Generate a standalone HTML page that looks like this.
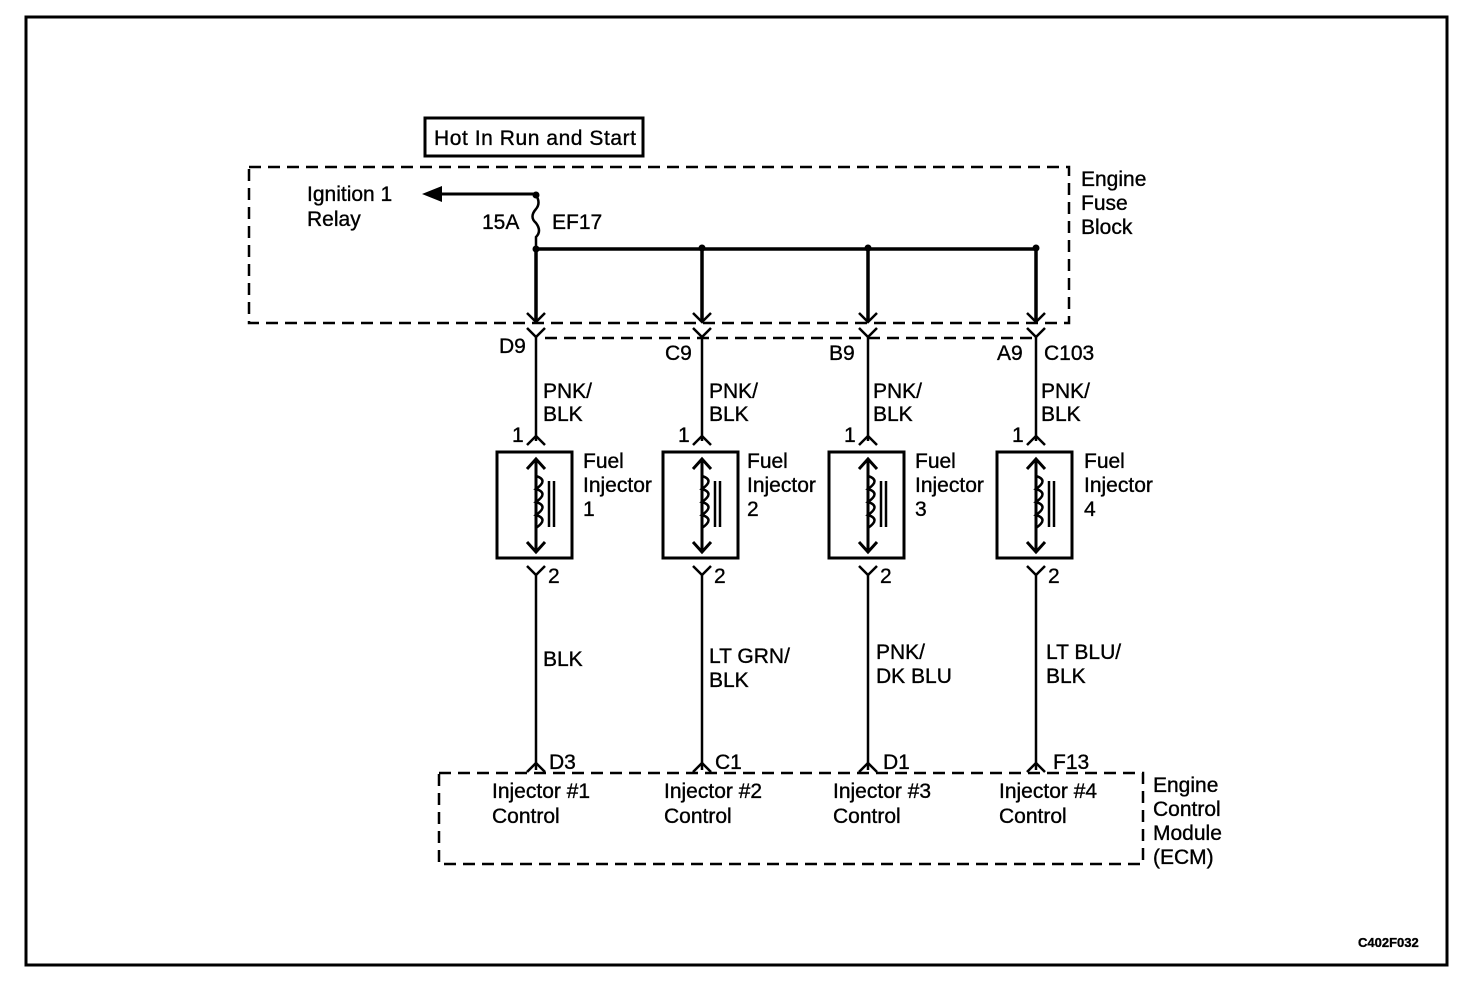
<!DOCTYPE html>
<html><head><meta charset="utf-8"><style>
html,body{margin:0;padding:0;background:#fff}
svg{display:block}
text{font-family:"Liberation Sans",Arial,sans-serif;font-size:21px;fill:#000;stroke:#000;stroke-width:0.35}
</style></head><body>
<svg width="1472" height="988" viewBox="0 0 1472 988" xmlns="http://www.w3.org/2000/svg">
<rect x="26" y="17" width="1421" height="948" fill="none" stroke="#000" stroke-width="3"/>
<rect x="425" y="118" width="218" height="38" fill="none" stroke="#000" stroke-width="3"/>
<text x="434" y="145" textLength="202">Hot In Run and Start</text>
<rect x="249" y="167" width="820" height="156" fill="none" stroke="#000" stroke-width="2.5" stroke-dasharray="12,7"/>
<line x1="545" y1="338" x2="1036" y2="338" stroke="#000" stroke-width="2.5" stroke-dasharray="12,7"/>
<rect x="439" y="773" width="704" height="91" fill="none" stroke="#000" stroke-width="2.5" stroke-dasharray="12,7"/>
<text x="307" y="201">Ignition 1</text>
<text x="307" y="226">Relay</text>
<text x="1081" y="186">Engine</text>
<text x="1081" y="210">Fuse</text>
<text x="1081" y="234">Block</text>
<text x="1153" y="792">Engine</text>
<text x="1153" y="816">Control</text>
<text x="1153" y="840">Module</text>
<text x="1153" y="864">(ECM)</text>
<text x="1358" y="947" style="font-size:13px;font-weight:bold">C402F032</text>
<line x1="440" y1="194" x2="536" y2="194" stroke="#000" stroke-width="3"/>
<polygon points="422,194 442,186 442,202" fill="#000"/>
<circle cx="536" cy="195" r="3.5" fill="#000"/>
<path d="M536 195 q5 8 0 14 q-7 8 0 14 q6 8 0 14 l0 12" fill="none" stroke="#000" stroke-width="2.5"/>
<text x="482" y="229">15A</text>
<text x="552" y="229">EF17</text>
<line x1="536" y1="249" x2="1036" y2="249" stroke="#000" stroke-width="3.5"/>
<circle cx="536" cy="249" r="3.5" fill="#000"/>
<circle cx="702" cy="248" r="3.5" fill="#000"/>
<circle cx="868" cy="248" r="3.5" fill="#000"/>
<circle cx="1036" cy="248" r="3.5" fill="#000"/>
<defs>
<g id="col" stroke="#000" fill="none">
<line x1="536" y1="249" x2="536" y2="321" stroke-width="3.5"/>
<polyline points="527,313 536,322 545,313" stroke-width="2.5"/>
<polyline points="527,328 536,337 545,328" stroke-width="2.5"/>
<line x1="536" y1="337" x2="536" y2="441" stroke-width="2.5"/>
<polyline points="527,445 536,436 545,445" stroke-width="2.5"/>
<rect x="497" y="452" width="75" height="106" stroke-width="3"/>
<line x1="536" y1="460" x2="536" y2="550" stroke-width="3"/>
<polyline points="527,469 536,459 545,469" stroke-width="3"/>
<polyline points="527,542 536,552 545,542" stroke-width="3"/>
<path d="M536 476 q13 4 0 13 q13 4 0 13 q13 4 0 13 q13 4 0 13" stroke-width="2.5"/>
<line x1="549" y1="481" x2="549" y2="527" stroke-width="2.5"/>
<line x1="554" y1="481" x2="554" y2="527" stroke-width="2.5"/>
<polyline points="527,566 536,575 545,566" stroke-width="2.5"/>
<line x1="536" y1="575" x2="536" y2="770" stroke-width="2.5"/>
<polyline points="527,772 536,763 545,772" stroke-width="2.5"/>
</g>
</defs>
<use href="#col"/>
<use href="#col" transform="translate(166,0)"/>
<use href="#col" transform="translate(332,0)"/>
<use href="#col" transform="translate(500,0)"/>
<text x="499" y="353">D9</text>
<text x="543" y="398">PNK/</text><text x="543" y="421">BLK</text>
<text x="512" y="442">1</text>
<text x="583" y="468">Fuel</text><text x="583" y="492">Injector</text><text x="583" y="516">1</text>
<text x="548" y="583">2</text>
<text x="543" y="666">BLK</text>
<text x="549" y="769">D3</text>
<text x="492" y="798">Injector #1</text><text x="492" y="823">Control</text>
<text x="665" y="360">C9</text>
<text x="709" y="398">PNK/</text><text x="709" y="421">BLK</text>
<text x="678" y="442">1</text>
<text x="747" y="468">Fuel</text><text x="747" y="492">Injector</text><text x="747" y="516">2</text>
<text x="714" y="583">2</text>
<text x="709" y="663">LT GRN/</text><text x="709" y="687">BLK</text>
<text x="715" y="769">C1</text>
<text x="664" y="798">Injector #2</text><text x="664" y="823">Control</text>
<text x="829" y="360">B9</text>
<text x="873" y="398">PNK/</text><text x="873" y="421">BLK</text>
<text x="844" y="442">1</text>
<text x="915" y="468">Fuel</text><text x="915" y="492">Injector</text><text x="915" y="516">3</text>
<text x="880" y="583">2</text>
<text x="876" y="659">PNK/</text><text x="876" y="683">DK BLU</text>
<text x="883" y="769">D1</text>
<text x="833" y="798">Injector #3</text><text x="833" y="823">Control</text>
<text x="997" y="360">A9</text>
<text x="1044" y="360">C103</text>
<text x="1041" y="398">PNK/</text><text x="1041" y="421">BLK</text>
<text x="1012" y="442">1</text>
<text x="1084" y="468">Fuel</text><text x="1084" y="492">Injector</text><text x="1084" y="516">4</text>
<text x="1048" y="583">2</text>
<text x="1046" y="659">LT BLU/</text><text x="1046" y="683">BLK</text>
<text x="1053" y="769">F13</text>
<text x="999" y="798">Injector #4</text><text x="999" y="823">Control</text>
</svg>
</body></html>
